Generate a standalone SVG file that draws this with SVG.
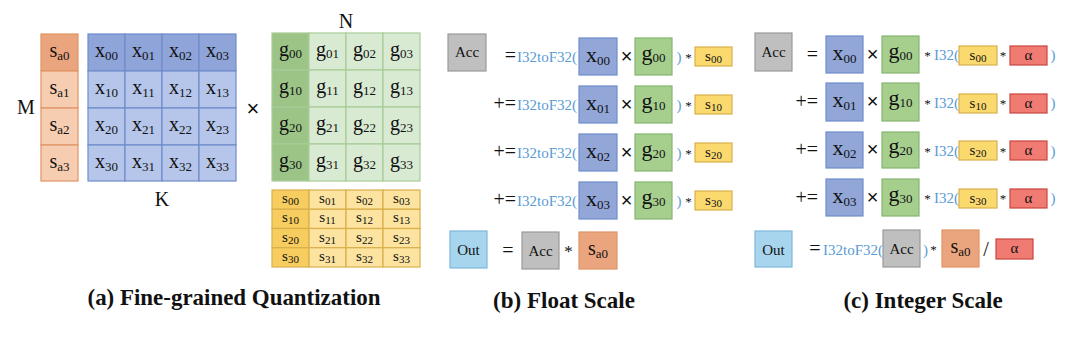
<svg xmlns="http://www.w3.org/2000/svg" width="1080" height="338" viewBox="0 0 1080 338">
<style>
text{font-family:"Liberation Serif","Times New Roman",serif;fill:#111}
.c{text-anchor:middle}
.sa0{fill:#EBA57E;stroke:#E09464;stroke-width:1.2}
.sa{fill:#F7CDB2;stroke:#E09464;stroke-width:1.2}
.xd{fill:#8FA4D8;stroke:#6F8CCB;stroke-width:1.2}
.xl{fill:#B6C6EA;stroke:#6F8CCB;stroke-width:1.2}
.gd{fill:#9CC487;stroke:#A8CC98;stroke-width:1.2}
.gl{fill:#D9EAD3;stroke:#A8CC98;stroke-width:1.2}
.sd{fill:#F7CD5F;stroke:#D9AF4B;stroke-width:1.2}
.sl{fill:#FCE39F;stroke:#D9AF4B;stroke-width:1.2}
.acc{fill:#BFBFBF;stroke:#9A9A9A;stroke-width:1.2}
.out{fill:#A8D5EE;stroke:#7DB7DC;stroke-width:1.2}
.al{fill:#EF7B73;stroke:#C8463F;stroke-width:1.2}
.bx{fill:#92A6D8;stroke:#6F8CCB;stroke-width:1.2}
.bg{fill:#A6CF8E;stroke:#86B56E;stroke-width:1.2}
.by{fill:#FAD96E;stroke:#D9AF4B;stroke-width:1.2}
.m{font-size:20px}
.sub{font-size:13px}
.ss{font-size:15px}
.ssub{font-size:11px}
.blue{fill:#5B9BD5;font-size:15px}
.op{font-size:20px}
.star{font-size:13px}
.cap{font-size:23px;font-weight:bold;text-anchor:middle}
</style>

<!-- (a) Fine-grained Quantization -->
<g id="label-M"><text x="26" y="114" class="m c">M</text></g>
<g id="sa-column">
<rect x="41" y="34" width="37" height="37" class="sa0"/>
<rect x="41" y="71" width="37" height="37" class="sa"/>
<rect x="41" y="108" width="37" height="37" class="sa"/>
<rect x="41" y="145" width="37" height="36" class="sa"/>
<text x="59.5" y="57" class="m c">s<tspan class="sub" dy="3">a0</tspan></text>
<text x="59.5" y="94" class="m c">s<tspan class="sub" dy="3">a1</tspan></text>
<text x="59.5" y="131" class="m c">s<tspan class="sub" dy="3">a2</tspan></text>
<text x="59.5" y="168" class="m c">s<tspan class="sub" dy="3">a3</tspan></text>
</g>
<g id="x-matrix">
<rect x="88" y="34" width="37" height="37" class="xd"/><rect x="125" y="34" width="37" height="37" class="xd"/><rect x="162" y="34" width="37" height="37" class="xd"/><rect x="199" y="34" width="37" height="37" class="xd"/>
<rect x="88" y="71" width="37" height="37" class="xl"/><rect x="125" y="71" width="37" height="37" class="xl"/><rect x="162" y="71" width="37" height="37" class="xl"/><rect x="199" y="71" width="37" height="37" class="xl"/>
<rect x="88" y="108" width="37" height="37" class="xl"/><rect x="125" y="108" width="37" height="37" class="xl"/><rect x="162" y="108" width="37" height="37" class="xl"/><rect x="199" y="108" width="37" height="37" class="xl"/>
<rect x="88" y="145" width="37" height="36" class="xl"/><rect x="125" y="145" width="37" height="36" class="xl"/><rect x="162" y="145" width="37" height="36" class="xl"/><rect x="199" y="145" width="37" height="36" class="xl"/>
<text x="106.5" y="57" class="m c">x<tspan class="sub" dy="3">00</tspan></text><text x="143.5" y="57" class="m c">x<tspan class="sub" dy="3">01</tspan></text><text x="180.5" y="57" class="m c">x<tspan class="sub" dy="3">02</tspan></text><text x="217.5" y="57" class="m c">x<tspan class="sub" dy="3">03</tspan></text>
<text x="106.5" y="94" class="m c">x<tspan class="sub" dy="3">10</tspan></text><text x="143.5" y="94" class="m c">x<tspan class="sub" dy="3">11</tspan></text><text x="180.5" y="94" class="m c">x<tspan class="sub" dy="3">12</tspan></text><text x="217.5" y="94" class="m c">x<tspan class="sub" dy="3">13</tspan></text>
<text x="106.5" y="131" class="m c">x<tspan class="sub" dy="3">20</tspan></text><text x="143.5" y="131" class="m c">x<tspan class="sub" dy="3">21</tspan></text><text x="180.5" y="131" class="m c">x<tspan class="sub" dy="3">22</tspan></text><text x="217.5" y="131" class="m c">x<tspan class="sub" dy="3">23</tspan></text>
<text x="106.5" y="168" class="m c">x<tspan class="sub" dy="3">30</tspan></text><text x="143.5" y="168" class="m c">x<tspan class="sub" dy="3">31</tspan></text><text x="180.5" y="168" class="m c">x<tspan class="sub" dy="3">32</tspan></text><text x="217.5" y="168" class="m c">x<tspan class="sub" dy="3">33</tspan></text>
</g>
<g id="label-K"><text x="162" y="206" class="m c">K</text></g>
<g id="times-a"><text x="253" y="116" class="c" style="font-family:'Liberation Sans',Arial,sans-serif;font-size:22px">×</text></g>
<g id="label-N"><text x="346" y="28" class="m c">N</text></g>
<g id="g-matrix">
<rect x="272" y="33" width="37" height="37" class="gd"/><rect x="309" y="33" width="37" height="37" class="gl"/><rect x="346" y="33" width="37" height="37" class="gl"/><rect x="383" y="33" width="37" height="37" class="gl"/>
<rect x="272" y="70" width="37" height="37" class="gd"/><rect x="309" y="70" width="37" height="37" class="gl"/><rect x="346" y="70" width="37" height="37" class="gl"/><rect x="383" y="70" width="37" height="37" class="gl"/>
<rect x="272" y="107" width="37" height="37" class="gd"/><rect x="309" y="107" width="37" height="37" class="gl"/><rect x="346" y="107" width="37" height="37" class="gl"/><rect x="383" y="107" width="37" height="37" class="gl"/>
<rect x="272" y="144" width="37" height="37" class="gd"/><rect x="309" y="144" width="37" height="37" class="gl"/><rect x="346" y="144" width="37" height="37" class="gl"/><rect x="383" y="144" width="37" height="37" class="gl"/>
<text x="290.5" y="56" class="m c">g<tspan class="sub" dy="2">00</tspan></text><text x="327.5" y="56" class="m c">g<tspan class="sub" dy="2">01</tspan></text><text x="364.5" y="56" class="m c">g<tspan class="sub" dy="2">02</tspan></text><text x="401.5" y="56" class="m c">g<tspan class="sub" dy="2">03</tspan></text>
<text x="290.5" y="93" class="m c">g<tspan class="sub" dy="2">10</tspan></text><text x="327.5" y="93" class="m c">g<tspan class="sub" dy="2">11</tspan></text><text x="364.5" y="93" class="m c">g<tspan class="sub" dy="2">12</tspan></text><text x="401.5" y="93" class="m c">g<tspan class="sub" dy="2">13</tspan></text>
<text x="290.5" y="130" class="m c">g<tspan class="sub" dy="2">20</tspan></text><text x="327.5" y="130" class="m c">g<tspan class="sub" dy="2">21</tspan></text><text x="364.5" y="130" class="m c">g<tspan class="sub" dy="2">22</tspan></text><text x="401.5" y="130" class="m c">g<tspan class="sub" dy="2">23</tspan></text>
<text x="290.5" y="167" class="m c">g<tspan class="sub" dy="2">30</tspan></text><text x="327.5" y="167" class="m c">g<tspan class="sub" dy="2">31</tspan></text><text x="364.5" y="167" class="m c">g<tspan class="sub" dy="2">32</tspan></text><text x="401.5" y="167" class="m c">g<tspan class="sub" dy="2">33</tspan></text>
</g>
<g id="s-matrix">
<rect x="272" y="190" width="37" height="19.25" class="sd"/><rect x="309" y="190" width="37" height="19.25" class="sl"/><rect x="346" y="190" width="37" height="19.25" class="sl"/><rect x="383" y="190" width="37" height="19.25" class="sl"/>
<rect x="272" y="209.25" width="37" height="19.25" class="sd"/><rect x="309" y="209.25" width="37" height="19.25" class="sl"/><rect x="346" y="209.25" width="37" height="19.25" class="sl"/><rect x="383" y="209.25" width="37" height="19.25" class="sl"/>
<rect x="272" y="228.5" width="37" height="19.25" class="sd"/><rect x="309" y="228.5" width="37" height="19.25" class="sl"/><rect x="346" y="228.5" width="37" height="19.25" class="sl"/><rect x="383" y="228.5" width="37" height="19.25" class="sl"/>
<rect x="272" y="247.75" width="37" height="19.25" class="sd"/><rect x="309" y="247.75" width="37" height="19.25" class="sl"/><rect x="346" y="247.75" width="37" height="19.25" class="sl"/><rect x="383" y="247.75" width="37" height="19.25" class="sl"/>
<text x="290.5" y="203" class="ss c">s<tspan class="ssub" dy="2">00</tspan></text><text x="327.5" y="203" class="ss c">s<tspan class="ssub" dy="2">01</tspan></text><text x="364.5" y="203" class="ss c">s<tspan class="ssub" dy="2">02</tspan></text><text x="401.5" y="203" class="ss c">s<tspan class="ssub" dy="2">03</tspan></text>
<text x="290.5" y="222.25" class="ss c">s<tspan class="ssub" dy="2">10</tspan></text><text x="327.5" y="222.25" class="ss c">s<tspan class="ssub" dy="2">11</tspan></text><text x="364.5" y="222.25" class="ss c">s<tspan class="ssub" dy="2">12</tspan></text><text x="401.5" y="222.25" class="ss c">s<tspan class="ssub" dy="2">13</tspan></text>
<text x="290.5" y="241.5" class="ss c">s<tspan class="ssub" dy="2">20</tspan></text><text x="327.5" y="241.5" class="ss c">s<tspan class="ssub" dy="2">21</tspan></text><text x="364.5" y="241.5" class="ss c">s<tspan class="ssub" dy="2">22</tspan></text><text x="401.5" y="241.5" class="ss c">s<tspan class="ssub" dy="2">23</tspan></text>
<text x="290.5" y="260.75" class="ss c">s<tspan class="ssub" dy="2">30</tspan></text><text x="327.5" y="260.75" class="ss c">s<tspan class="ssub" dy="2">31</tspan></text><text x="364.5" y="260.75" class="ss c">s<tspan class="ssub" dy="2">32</tspan></text><text x="401.5" y="260.75" class="ss c">s<tspan class="ssub" dy="2">33</tspan></text>
</g>
<g id="caption-a"><text x="234" y="305" class="cap" textLength="293" lengthAdjust="spacingAndGlyphs">(a) Fine-grained Quantization</text></g>

<!-- (b) Float Scale -->
<g id="b-acc"><rect x="448" y="34" width="38" height="37" class="acc"/><text x="467" y="57" class="ss c">Acc</text></g>
<g id="b-row0">
<text x="516" y="62" class="op" text-anchor="end">=</text>
<text x="517" y="62" class="blue">I32toF32(</text>
<rect x="579" y="38" width="38" height="37" class="bx"/><text x="598" y="62" class="m c" style="font-size:22px">x<tspan class="sub" dy="3">00</tspan></text>
<text x="626.5" y="63" class="c" style="font-family:'Liberation Sans',sans-serif;font-size:20px">×</text>
<rect x="635" y="38" width="37" height="37" class="bg"/><text x="653.5" y="60" class="m c" style="font-size:22px">g<tspan class="sub" dy="2">00</tspan></text>
<text x="679" y="62" class="blue c">)</text><text x="688.5" y="62" class="star c">*</text>
<rect x="695" y="47" width="37" height="19" class="by"/><text x="713.5" y="61" class="ss c">s<tspan class="ssub" dy="2">00</tspan></text>
</g>
<g id="b-row1">
<text x="516" y="110" class="op" text-anchor="end">+=</text>
<text x="517" y="110" class="blue">I32toF32(</text>
<rect x="579" y="86" width="38" height="37" class="bx"/><text x="598" y="110" class="m c" style="font-size:22px">x<tspan class="sub" dy="3">01</tspan></text>
<text x="626.5" y="111" class="c" style="font-family:'Liberation Sans',sans-serif;font-size:20px">×</text>
<rect x="635" y="86" width="37" height="37" class="bg"/><text x="653.5" y="108" class="m c" style="font-size:22px">g<tspan class="sub" dy="2">10</tspan></text>
<text x="679" y="110" class="blue c">)</text><text x="688.5" y="110" class="star c">*</text>
<rect x="695" y="95" width="37" height="19" class="by"/><text x="713.5" y="109" class="ss c">s<tspan class="ssub" dy="2">10</tspan></text>
</g>
<g id="b-row2">
<text x="516" y="158" class="op" text-anchor="end">+=</text>
<text x="517" y="158" class="blue">I32toF32(</text>
<rect x="579" y="134" width="38" height="37" class="bx"/><text x="598" y="158" class="m c" style="font-size:22px">x<tspan class="sub" dy="3">02</tspan></text>
<text x="626.5" y="159" class="c" style="font-family:'Liberation Sans',sans-serif;font-size:20px">×</text>
<rect x="635" y="134" width="37" height="37" class="bg"/><text x="653.5" y="156" class="m c" style="font-size:22px">g<tspan class="sub" dy="2">20</tspan></text>
<text x="679" y="158" class="blue c">)</text><text x="688.5" y="158" class="star c">*</text>
<rect x="695" y="143" width="37" height="19" class="by"/><text x="713.5" y="157" class="ss c">s<tspan class="ssub" dy="2">20</tspan></text>
</g>
<g id="b-row3">
<text x="516" y="206" class="op" text-anchor="end">+=</text>
<text x="517" y="206" class="blue">I32toF32(</text>
<rect x="579" y="182" width="38" height="37" class="bx"/><text x="598" y="206" class="m c" style="font-size:22px">x<tspan class="sub" dy="3">03</tspan></text>
<text x="626.5" y="207" class="c" style="font-family:'Liberation Sans',sans-serif;font-size:20px">×</text>
<rect x="635" y="182" width="37" height="37" class="bg"/><text x="653.5" y="204" class="m c" style="font-size:22px">g<tspan class="sub" dy="2">30</tspan></text>
<text x="679" y="206" class="blue c">)</text><text x="688.5" y="206" class="star c">*</text>
<rect x="695" y="191" width="37" height="19" class="by"/><text x="713.5" y="205" class="ss c">s<tspan class="ssub" dy="2">30</tspan></text>
</g>
<g id="b-out">
<rect x="450" y="231" width="37" height="37" class="out"/><text x="468.5" y="255" class="ss c">Out</text>
<text x="508" y="257" class="op c">=</text>
<rect x="522" y="232" width="37" height="37" class="acc"/><text x="540.5" y="256" class="ss c">Acc</text>
<text x="568.5" y="257" class="c" style="font-size:17px">*</text>
<rect x="579" y="232" width="38" height="37" class="sa0"/><text x="598" y="255" class="m c">s<tspan class="sub" dy="3">a0</tspan></text>
</g>
<g id="caption-b"><text x="564" y="308" class="cap">(b) Float Scale</text></g>

<!-- (c) Integer Scale -->
<g id="c-acc"><rect x="755" y="33" width="37" height="38" class="acc"/><text x="773.5" y="57" class="ss c">Acc</text></g>
<g id="c-row0">
<text x="818" y="61" class="op" text-anchor="end">=</text>
<rect x="826" y="36" width="37" height="37" class="bx"/><text x="844.5" y="60" class="m c" style="font-size:22px">x<tspan class="sub" dy="3">00</tspan></text>
<text x="872.5" y="61" class="c" style="font-family:'Liberation Sans',sans-serif;font-size:20px">×</text>
<rect x="882" y="36" width="37" height="37" class="bg"/><text x="900.5" y="58" class="m c" style="font-size:22px">g<tspan class="sub" dy="2">00</tspan></text>
<text x="927.5" y="60" class="star c">*</text>
<text x="934" y="60" class="blue">I32(</text>
<rect x="959" y="46" width="38" height="19" class="by"/><text x="978" y="60" class="ss c">s<tspan class="ssub" dy="2">00</tspan></text>
<text x="1003" y="60" class="star c">*</text>
<rect x="1010" y="46" width="37" height="19" class="al"/><text x="1028.5" y="60" class="ss c">α</text>
<text x="1053" y="60" class="blue c">)</text>
</g>
<g id="c-row1">
<text x="818" y="108" class="op" text-anchor="end">+=</text>
<rect x="826" y="83" width="37" height="38" class="bx"/><text x="844.5" y="107" class="m c" style="font-size:22px">x<tspan class="sub" dy="3">01</tspan></text>
<text x="872.5" y="108" class="c" style="font-family:'Liberation Sans',sans-serif;font-size:20px">×</text>
<rect x="882" y="83" width="37" height="38" class="bg"/><text x="900.5" y="105" class="m c" style="font-size:22px">g<tspan class="sub" dy="2">10</tspan></text>
<text x="927.5" y="108" class="star c">*</text>
<text x="934" y="108" class="blue">I32(</text>
<rect x="959" y="94" width="38" height="19" class="by"/><text x="978" y="108" class="ss c">s<tspan class="ssub" dy="2">10</tspan></text>
<text x="1003" y="108" class="star c">*</text>
<rect x="1010" y="94" width="37" height="19" class="al"/><text x="1028.5" y="108" class="ss c">α</text>
<text x="1053" y="108" class="blue c">)</text>
</g>
<g id="c-row2">
<text x="818" y="156" class="op" text-anchor="end">+=</text>
<rect x="826" y="132" width="37" height="36" class="bx"/><text x="844.5" y="155" class="m c" style="font-size:22px">x<tspan class="sub" dy="3">02</tspan></text>
<text x="872.5" y="156" class="c" style="font-family:'Liberation Sans',sans-serif;font-size:20px">×</text>
<rect x="882" y="132" width="37" height="36" class="bg"/><text x="900.5" y="153" class="m c" style="font-size:22px">g<tspan class="sub" dy="2">20</tspan></text>
<text x="927.5" y="156" class="star c">*</text>
<text x="934" y="156" class="blue">I32(</text>
<rect x="959" y="141" width="38" height="19" class="by"/><text x="978" y="155" class="ss c">s<tspan class="ssub" dy="2">20</tspan></text>
<text x="1003" y="156" class="star c">*</text>
<rect x="1010" y="141" width="37" height="19" class="al"/><text x="1028.5" y="155" class="ss c">α</text>
<text x="1053" y="156" class="blue c">)</text>
</g>
<g id="c-row3">
<text x="818" y="204" class="op" text-anchor="end">+=</text>
<rect x="826" y="179" width="37" height="37" class="bx"/><text x="844.5" y="203" class="m c" style="font-size:22px">x<tspan class="sub" dy="3">03</tspan></text>
<text x="872.5" y="204" class="c" style="font-family:'Liberation Sans',sans-serif;font-size:20px">×</text>
<rect x="882" y="179" width="37" height="37" class="bg"/><text x="900.5" y="201" class="m c" style="font-size:22px">g<tspan class="sub" dy="2">30</tspan></text>
<text x="927.5" y="203" class="star c">*</text>
<text x="934" y="203" class="blue">I32(</text>
<rect x="959" y="189" width="38" height="19" class="by"/><text x="978" y="203" class="ss c">s<tspan class="ssub" dy="2">30</tspan></text>
<text x="1003" y="203" class="star c">*</text>
<rect x="1010" y="189" width="37" height="19" class="al"/><text x="1028.5" y="203" class="ss c">α</text>
<text x="1053" y="203" class="blue c">)</text>
</g>
<g id="c-out">
<rect x="755" y="231" width="37" height="36" class="out"/><text x="773.5" y="255" class="ss c">Out</text>
<text x="815" y="255" class="op c">=</text>
<text x="823" y="255" class="blue">I32toF32(</text>
<rect x="883" y="230" width="37" height="37" class="acc"/><text x="901.5" y="254" class="ss c">Acc</text>
<text x="925.5" y="255" class="blue c">)</text>
<text x="933.5" y="254" class="star c">*</text>
<rect x="942" y="230" width="37" height="37" class="sa0"/><text x="960.5" y="253" class="m c">s<tspan class="sub" dy="3">a0</tspan></text>
<text x="986" y="256" class="m c">/</text>
<rect x="996" y="239" width="37" height="20" class="al"/><text x="1014.5" y="253" class="ss c">α</text>
</g>
<g id="caption-c"><text x="923" y="308" class="cap">(c) Integer Scale</text></g>
</svg>
